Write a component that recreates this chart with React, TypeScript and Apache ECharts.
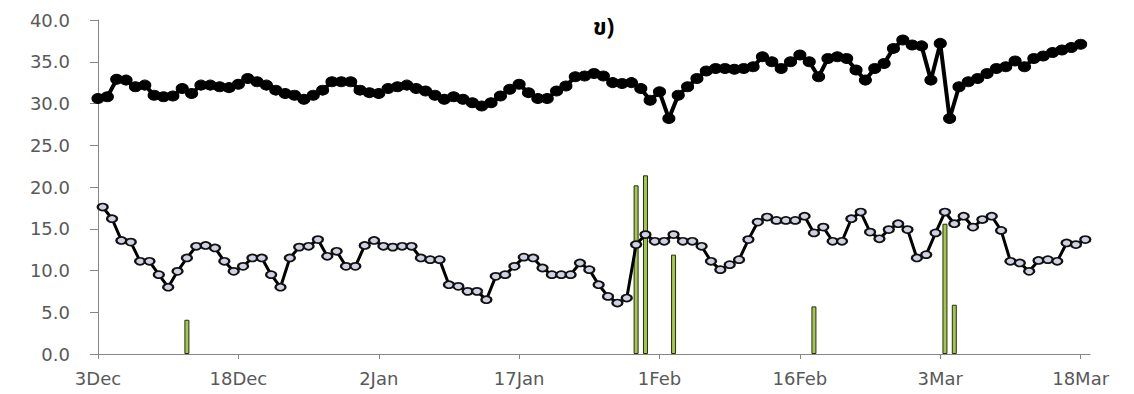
import React, { useEffect, useRef } from 'react';
import * as echarts from 'echarts';

// x axis: day index counted from 3 Dec (0) to 19 Mar (106)
const tickDays = [0, 15, 30, 45, 60, 75, 90, 105];
const tickLabels = ['3Dec', '18Dec', '2Jan', '17Jan', '1Feb', '16Feb', '3Mar', '18Mar'];
const yTicks = [0, 5, 10, 15, 20, 25, 30, 35, 40];

// upper series (black filled markers), one value per day from 3 Dec
const maxTemp = [
  30.6, 30.8, 32.9, 32.8, 32.0, 32.2, 31.0, 30.8, 30.9, 31.8, 31.2, 32.2, 32.2, 32.0, 31.9, 32.3, 33.0, 32.6,
  32.2, 31.6, 31.2, 31.0, 30.5, 31.0, 31.6, 32.6, 32.6, 32.6, 31.6, 31.3, 31.2, 31.8, 32.0, 32.2, 31.8, 31.5,
  31.0, 30.5, 30.8, 30.5, 30.1, 29.7, 30.1, 30.9, 31.7, 32.3, 31.3, 30.6, 30.6, 31.5, 32.1, 33.2, 33.3, 33.6,
  33.3, 32.5, 32.4, 32.5, 31.8, 30.4, 31.4, 28.2, 31.0, 32.0, 33.0, 33.9, 34.2, 34.2, 34.1, 34.2, 34.4,
  35.6, 35.0, 34.2, 35.0, 35.8, 35.0, 33.2, 35.4, 35.6, 35.4, 34.0, 32.8, 34.2, 34.8, 36.6, 37.6, 37.0,
  36.9, 32.8, 37.2, 28.2, 32.0, 32.6, 33.0, 33.6, 34.2, 34.4, 35.1, 34.4, 35.4, 35.7, 36.1, 36.4, 36.7, 37.1,
];

// lower series (light markers), one value per day from 3 Dec
const minTemp = [
  17.6, 16.2, 13.6, 13.4, 11.1, 11.1, 9.5, 8.0, 9.9, 11.5, 12.9, 13.0, 12.7, 11.1, 9.9, 10.5, 11.5, 11.5,
  9.5, 8.0, 11.5, 12.8, 12.9, 13.7, 11.7, 12.3, 10.5, 10.5, 13.0, 13.6, 12.9, 12.8, 12.9, 12.9, 11.5, 11.3,
  11.3, 8.3, 8.1, 7.5, 7.5, 6.5, 9.3, 9.5, 10.5, 11.6, 11.5, 10.3, 9.5, 9.5, 9.5, 10.9, 10.1, 8.3,
  6.9, 6.1, 6.7, 13.1, 14.3, 13.5, 13.5, 14.3, 13.5, 13.5, 12.9, 11.1, 10.1, 10.7, 11.3, 13.7, 15.8,
  16.4, 16.0, 16.0, 16.0, 16.5, 14.5, 15.2, 13.5, 13.5, 16.2, 17.0, 14.6, 13.8, 14.9, 15.6, 14.9, 11.5,
  11.9, 14.5, 17.0, 15.6, 16.5, 15.2, 16.1, 16.5, 14.8, 11.1, 10.9, 9.9, 11.2, 11.3, 11.1, 13.3, 13.1, 13.7,
];

// rain bars
const rainDays = [9, 57, 58, 61, 76, 90, 91];
const rainValues = [4.1, 20.2, 21.4, 11.9, 5.7, 15.6, 5.9];

const HALF_DAY = 0.5;

export default function App() {
  const ref = useRef<HTMLDivElement>(null);
  useEffect(() => {
    if (!ref.current) return;
    const chart = echarts.init(ref.current, null, { renderer: 'svg' });
    const labelFont = 'DejaVu Sans, Verdana, sans-serif';
    chart.setOption({
      animation: false,
      backgroundColor: '#ffffff',
      title: {
        text: 'ข)',
        left: 588,
        top: 11,
        textStyle: { fontSize: 23, fontWeight: 'bold', color: '#000', fontFamily: 'Noto Sans Thai, Tahoma, DejaVu Sans, sans-serif' },
      },
      grid: { left: 98, right: 44, top: 20, bottom: 40, containLabel: false },
      xAxis: {
        type: 'value',
        min: 0,
        max: 106,
        interval: 15,
        splitLine: { show: false },
        axisLine: { show: true, lineStyle: { color: '#868686', width: 1 } },
        axisTick: { show: true, customValues: tickDays, length: 5, lineStyle: { color: '#868686' } },
        axisLabel: {
          customValues: tickDays,
          formatter: (v: number) => {
            const i = tickDays.indexOf(Math.round(v));
            return i >= 0 ? tickLabels[i] : '';
          },
          fontSize: 18,
          fontFamily: labelFont,
          color: '#595959',
          margin: 15,
        },
      },
      yAxis: {
        type: 'value',
        min: 0,
        max: 40,
        interval: 5,
        splitLine: { show: false },
        axisLine: { show: true, lineStyle: { color: '#868686', width: 1 } },
        axisTick: { show: true, length: 8, lineStyle: { color: '#868686' } },
        axisLabel: {
          formatter: (v: number) => (yTicks.includes(v) ? v.toFixed(1) : ''),
          fontSize: 18,
          fontFamily: labelFont,
          color: '#595959',
          margin: 28,
        },
      },
      series: [
        {
          type: 'bar',
          data: rainDays.map((d, i) => [d + HALF_DAY, rainValues[i]]),
          barWidth: 5,
          itemStyle: { color: '#a6c35a', borderColor: '#26300c', borderWidth: 1 },
          z: 2,
        },
        {
          type: 'line',
          data: maxTemp.map((v, i) => [i, v]),
          symbol: 'circle',
          symbolSize: [12, 10],
          showAllSymbol: true,
          lineStyle: { color: '#000', width: 4 },
          itemStyle: { color: '#000', borderColor: '#000', borderWidth: 1 },
          z: 3,
        },
        {
          type: 'line',
          data: minTemp.map((v, i) => [i + HALF_DAY, v]),
          symbol: 'circle',
          symbolSize: [10, 7],
          showAllSymbol: true,
          lineStyle: { color: '#000', width: 3 },
          itemStyle: { color: '#cfd2e2', borderColor: '#111', borderWidth: 2 },
          z: 3,
        },
      ],
    });
    return () => chart.dispose();
  }, []);
  return (
    <div
      ref={ref}
      style={{ position: 'fixed', left: 0, top: 0, width: 1134, height: 394, background: '#fff' }}
    />
  );
}
